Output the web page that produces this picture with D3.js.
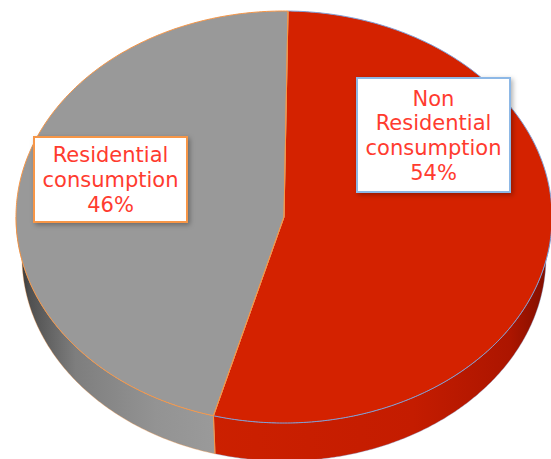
<!DOCTYPE html>
<html><head><meta charset="utf-8">
<script src="https://cdn.jsdelivr.net/npm/d3@7"></script>
<style>html,body{margin:0;padding:0;background:#fff;}svg{display:block;}</style>
</head><body>
<svg id="chart" width="551" height="459"></svg>
<script>
const categories = ["Non Residential consumption", "Residential consumption"];
const values = [54, 46];
const labelLines = [["Non", "Residential", "consumption", "54%"], ["Residential", "consumption", "46%"]];

const W = 551, H = 459;
const cx = 284, cy = 217, rx = 268, ry = 206, depth = 40;
const rxB = 262, ryB = 204;
const topColors = ["#d42200", "#999999"];
const edgeColors = ["#7f9fd8", "#f79646"];
const boxBorders = ["#8db8e6", "#f79646"];

const svg = d3.select("#chart");
const defs = svg.append("defs");

const pie = d3.pie().sort(null).value(d => d).startAngle(0.015).endAngle(0.015 + 2 * Math.PI);
const arcs = pie(values);

const px = (t, r) => cx + r * Math.sin(t);
const py = (t, r) => cy - r * Math.cos(t);

function arcPts(a0, a1, bottom) {
  const n = Math.max(2, Math.ceil(Math.abs(a1 - a0) / 0.01));
  return d3.range(n + 1).map(i => {
    const t = a0 + (a1 - a0) * i / n;
    return bottom ? [px(t, rxB), py(t, ryB) + depth] : [px(t, rx), py(t, ry)];
  });
}
const line = d3.line();

// side gradients
const g0 = defs.append("linearGradient").attr("id", "side0").attr("gradientUnits", "userSpaceOnUse")
  .attr("x1", 205).attr("x2", cx + rx).attr("y1", 0).attr("y2", 0);
[[0, "#cc2000"], [0.6, "#c41c00"], [0.88, "#ac1500"], [1, "#7a0e00"]].forEach(s =>
  g0.append("stop").attr("offset", s[0]).attr("stop-color", s[1]));
const g1 = defs.append("linearGradient").attr("id", "side1").attr("gradientUnits", "userSpaceOnUse")
  .attr("x1", cx - rx).attr("x2", 215).attr("y1", 0).attr("y2", 0);
[[0, "#2a2a2a"], [0.07, "#505050"], [0.3, "#7e7e7e"], [0.7, "#939393"], [1, "#9a9a9a"]].forEach(s =>
  g1.append("stop").attr("offset", s[0]).attr("stop-color", s[1]));

const shadow = defs.append("filter").attr("id", "shadow").attr("x", "-20%").attr("y", "-20%").attr("width", "140%").attr("height", "140%");
shadow.append("feDropShadow").attr("dx", 2).attr("dy", 2).attr("stdDeviation", 2.5).attr("flood-color", "#000").attr("flood-opacity", 0.3);

// sides (front-facing part)
const sides = svg.append("g");
arcs.forEach((a, i) => {
  const s = Math.max(a.startAngle, Math.PI / 2), e = Math.min(a.endAngle, 3 * Math.PI / 2);
  if (e <= s) return;
  const pts = arcPts(s, e, false).concat(arcPts(e, s, true));
  sides.append("path").attr("d", line(pts) + "Z").attr("fill", `url(#side${i})`)
    .attr("stroke", edgeColors[i]).attr("stroke-width", 0.6).attr("stroke-opacity", 0.6);
});
const bAng = arcs[0].endAngle;
sides.append("path").attr("d", line([[px(bAng, rx), py(bAng, ry)], [px(bAng, rxB), py(bAng, ryB) + depth]]))
  .attr("stroke", edgeColors[1]).attr("stroke-width", 1);

// tops
const tops = svg.append("g");
arcs.forEach((a, i) => {
  const pts = [[cx, cy]].concat(arcPts(a.startAngle, a.endAngle, false));
  tops.append("path").attr("d", line(pts) + "Z").attr("fill", topColors[i])
    .attr("stroke", edgeColors[i]).attr("stroke-width", 1).attr("stroke-linejoin", "round");
});
tops.append("path").attr("d", line([[px(arcs[0].startAngle, rx), py(arcs[0].startAngle, ry)], [cx, cy], [px(bAng, rx), py(bAng, ry)]]))
  .attr("fill", "none").attr("stroke", edgeColors[1]).attr("stroke-width", 1);

// labels
const boxes = [
  { x: 357, y: 78, w: 153, h: 114 },
  { x: 34, y: 137, w: 153, h: 85 }
];
const fs = 21, lh = 24.7;
arcs.forEach((a, i) => {
  const b = boxes[i];
  const g = svg.append("g");
  g.append("rect").attr("x", b.x).attr("y", b.y).attr("width", b.w).attr("height", b.h)
    .attr("fill", "#fff").attr("stroke", boxBorders[i]).attr("stroke-width", 2).attr("filter", "url(#shadow)");
  const lines = labelLines[i];
  const tx = b.x + b.w / 2;
  const y0 = b.y + b.h / 2 - (lines.length - 1) * lh / 2 + fs * 0.36;
  lines.forEach((t, k) => {
    g.append("text").attr("x", tx).attr("y", y0 + k * lh).attr("text-anchor", "middle")
      .attr("font-family", "DejaVu Sans, Verdana, sans-serif").attr("font-size", fs)
      .attr("fill", "#ff3b2f").text(t);
  });
});
</script>
</body></html>
